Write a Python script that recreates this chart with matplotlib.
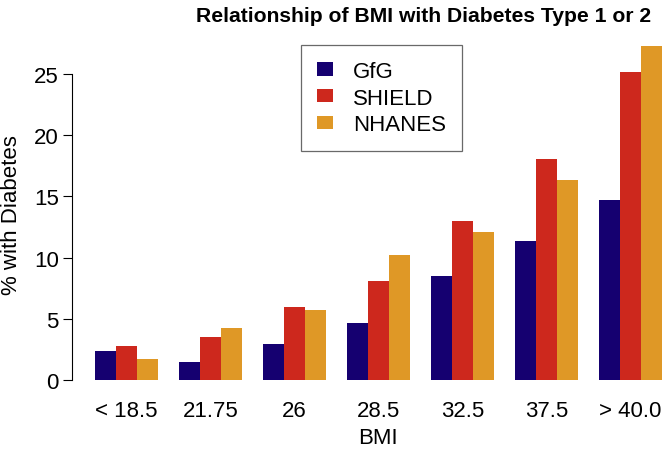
import matplotlib
matplotlib.use('Agg')
import matplotlib.pyplot as plt
from matplotlib.patches import Patch
import numpy as np

plt.rcParams['font.family'] = ['Liberation Sans', 'DejaVu Sans']

CATEGORIES = ['< 18.5', '21.75', '26', '28.5', '32.5', '37.5', '> 40.0']
SERIES = ['GfG', 'SHIELD', 'NHANES']
GFG = [2.35, 1.5, 2.92, 4.66, 8.47, 11.36, 14.68]
SHIELD = [2.75, 3.49, 5.99, 8.11, 12.96, 18.08, 25.19]
NHANES = [1.72, 4.22, 5.74, 10.21, 12.09, 16.34, 27.3]
COLORS = ['#150070', '#CD281D', '#DF9826']
YTICKS = [0, 5, 10, 15, 20, 25]

W, H = 664, 452
PX_PER_UNIT = 21.0  # bar width in pixels
FS = 16


def main():
    fig = plt.figure(figsize=(W / 100, H / 100), dpi=100)
    # axes placed in pixels: left 72 .. right 664, y from 394.5 (bottom) to 33 (top)
    left_px, right_px = 72, 664
    ylo, yhi = -1.1, 28.4
    ppu_y = 12.24
    bottom_px = 381 + (-ylo) * ppu_y
    top_px = 381 - yhi * ppu_y
    ax = fig.add_axes([left_px / W, 1 - bottom_px / H,
                       (right_px - left_px) / W, (bottom_px - top_px) / H])
    # bar units: first bar left edge at x=1 maps to pixel 95
    x0 = 1 - (95 - left_px) / PX_PER_UNIT
    x1 = x0 + (right_px - left_px) / PX_PER_UNIT
    ax.set_xlim(x0, x1)
    ax.set_ylim(ylo, yhi)

    data = [GFG, SHIELD, NHANES]
    groups = np.arange(len(CATEGORIES))
    for s, vals in enumerate(data):
        lefts = 1 + 4 * groups + s
        ax.bar(lefts, vals, width=1.0, align='edge', color=COLORS[s],
               linewidth=0)

    for sp in ['top', 'right', 'bottom']:
        ax.spines[sp].set_visible(False)
    ax.spines['left'].set_bounds(0, 25)
    ax.spines['left'].set_linewidth(0.8)
    ax.set_yticks(YTICKS)
    ax.set_yticklabels([str(t) for t in YTICKS], fontsize=FS)
    ax.tick_params(axis='y', length=6.5, width=0.8, pad=3)
    ax.set_xticks(1 + 4 * groups + 1.5)
    ax.set_xticklabels(CATEGORIES, fontsize=FS)
    ax.tick_params(axis='x', length=0, pad=5)

    fig.text(12 / W, 1 - 215 / H, '% with Diabetes', rotation=90,
             ha='center', va='center', fontsize=FS)
    fig.text(378 / W, 1 - 439 / H, 'BMI', ha='center', va='center',
             fontsize=FS)
    fig.text(424 / W, 1 - 16 / H, 'Relationship of BMI with Diabetes Type 1 or 2',
             ha='center', va='center', fontsize=15.2, fontweight='bold')

    handles = [Patch(facecolor=c, edgecolor='none') for c in COLORS]
    leg = ax.legend(handles, SERIES, loc='upper left',
                    bbox_to_anchor=((301 - left_px) / (right_px - left_px),
                                    (bottom_px - 46) / (bottom_px - top_px)),
                    fontsize=FS, frameon=True, fancybox=False,
                    handlelength=0.72, handleheight=0.55, handletextpad=0.9,
                    borderpad=0.72, labelspacing=0.25, borderaxespad=0)
    leg.get_frame().set_edgecolor('#444444')
    leg.get_frame().set_linewidth(0.9)

    plt.savefig('out.png', dpi=100)
    plt.close('all')


if __name__ == '__main__':
    main()
